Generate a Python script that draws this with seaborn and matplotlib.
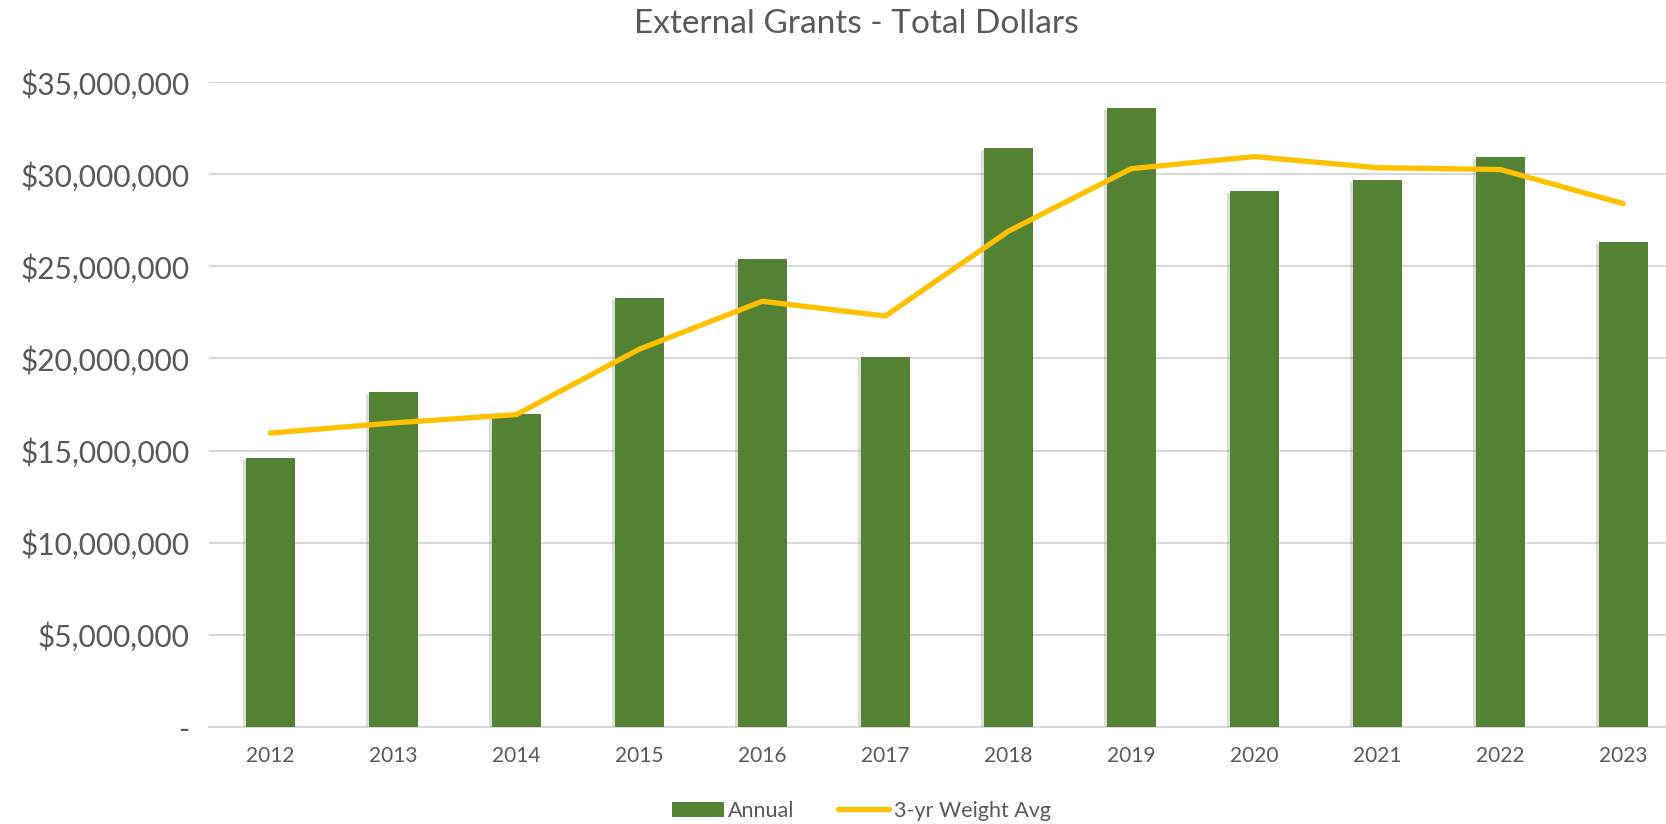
import numpy as np
import pandas as pd
import matplotlib
matplotlib.use("Agg")
import matplotlib.pyplot as plt
import matplotlib.patheffects as pe
from matplotlib.patches import Patch
from matplotlib.lines import Line2D
from matplotlib.ticker import FuncFormatter
import seaborn as sns

# --- data ---
years = ["2012", "2013", "2014", "2015", "2016", "2017",
         "2018", "2019", "2020", "2021", "2022", "2023"]
annual = [14.6e6, 18.2e6, 17.0e6, 23.3e6, 25.4e6, 20.1e6,
          31.4e6, 33.6e6, 29.1e6, 29.7e6, 30.95e6, 26.3e6]
weight_avg = [15.95e6, 16.5e6, 16.95e6, 20.5e6, 23.1e6, 22.3e6,
              26.9e6, 30.3e6, 30.95e6, 30.35e6, 30.25e6, 28.4e6]
yticks = [0, 5e6, 10e6, 15e6, 20e6, 25e6, 30e6, 35e6]

GREEN = "#548235"
GOLD = "#FFC000"
TEXT = "#595959"
GRID = "#D9D9D9"

df = pd.DataFrame({"year": years, "annual": annual, "avg": weight_avg})

sns.set_style("white")
plt.rcParams["font.family"] = ["Lato", "DejaVu Sans"]

fig = plt.figure(figsize=(16.66, 8.24), dpi=100)
ax = fig.add_axes([0.1253, 0.1177, 0.886, 0.7828])

# bars with a soft shadow like the spreadsheet export
sns.barplot(data=df, x="year", y="annual", color=GREEN, width=0.4,
            saturation=1, ax=ax, zorder=3, edgecolor="none")
for p in ax.patches:
    p.set_path_effects([pe.SimplePatchShadow(offset=(-2, -1.5), shadow_rgbFace="#8c8c8c", alpha=0.3),
                        pe.Normal()])

sns.pointplot(data=df, x="year", y="avg", color=GOLD, markers="",
              linewidth=3.8, ax=ax, zorder=4)
for ln in ax.lines:
    ln.set_solid_capstyle("round")
    ln.set_solid_joinstyle("round")

ax.set_ylim(0, 35e6)
ax.set_xlim(-0.5, 11.5)
ax.set_yticks(yticks)
ax.yaxis.set_major_formatter(FuncFormatter(lambda v, _: "-" if v == 0 else f"${v:,.0f}"))
ax.grid(axis="y", color=GRID, linewidth=1.5, zorder=0)
ax.set_axisbelow(True)
for s in ["top", "right", "left"]:
    ax.spines[s].set_visible(False)
ax.spines["bottom"].set_color(GRID)
ax.spines["bottom"].set_linewidth(1.5)
ax.tick_params(axis="y", length=0, pad=14, labelsize=21.5, labelcolor=TEXT)
ax.tick_params(axis="x", length=0, pad=14, labelsize=15, labelcolor=TEXT)
ax.set_xlabel("")
ax.set_ylabel("")

fig.text(0.514, 0.971, "External Grants - Total Dollars", ha="center", va="center",
         fontsize=24, color=TEXT)

handles = [Patch(facecolor=GREEN, edgecolor="none"),
           Line2D([0], [0], color=GOLD, linewidth=3.8, solid_capstyle="round")]
fig.legend(handles, ["Annual", "3-yr Weight Avg"], loc="center", ncol=2,
           bbox_to_anchor=(0.517, 0.016), frameon=False, fontsize=15.5,
           labelcolor=TEXT, handlelength=2.4, handletextpad=0.2, columnspacing=2.0)

fig.savefig("out.png", dpi=100)
